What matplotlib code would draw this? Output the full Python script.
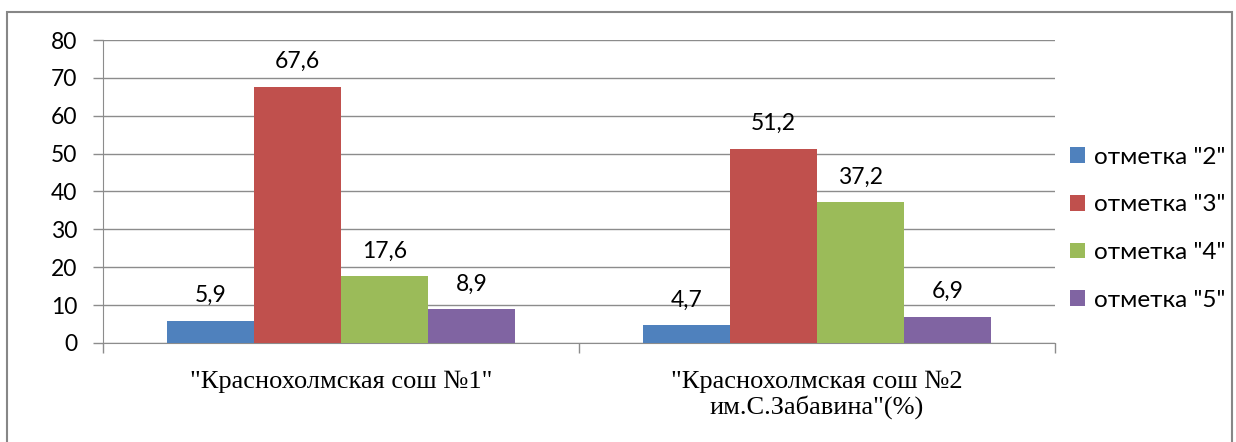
import numpy as np
import matplotlib.pyplot as plt
from matplotlib.patches import Rectangle

schools = ['"Краснохолмская сош №1"', '"Краснохолмская сош №2\nим.С.Забавина"(%)']
series_names = ['отметка "2"', 'отметка "3"', 'отметка "4"', 'отметка "5"']
mark_2 = [5.9, 4.7]
mark_3 = [67.6, 51.2]
mark_4 = [17.6, 37.2]
mark_5 = [8.9, 6.9]
colors = ["#4F81BD", "#C0504D", "#9BBB59", "#8064A2"]

values = [mark_2, mark_3, mark_4, mark_5]

fig = plt.figure(figsize=(12.36, 4.42), dpi=100)
ax = fig.add_axes([0.0833, 0.224, 0.7702, 0.6855])

# outer chart border
fig.patches.append(Rectangle((7 / 1236, -0.01), 1225 / 1236, 0.983, transform=fig.transFigure,
                             fill=False, edgecolor="#878787", linewidth=1.5))

x = np.arange(len(schools))
w = 0.183
for i, (name, vals) in enumerate(zip(series_names, values)):
    pos = x + (i - 1.5) * w
    bars = ax.bar(pos, vals, w, color=colors[i], label=name, zorder=3)
    for b, v in zip(bars, vals):
        ax.annotate(str(v).replace(".", ","), (b.get_x() + b.get_width() / 2, v),
                    xytext=(0, 13.5), textcoords="offset points", ha="center", va="baseline",
                    fontsize=16.5, family="Lato")

ax.set_ylim(0, 80)
ax.set_xlim(-0.5, 1.5)
ax.set_yticks(range(0, 81, 10))
ax.yaxis.grid(True, color="#8c8c8c", linewidth=1, zorder=0)
ax.set_axisbelow(True)

ax.set_xticks([-0.5, 0.5, 1.5])
ax.set_xticklabels([])
ax.tick_params(axis="x", which="major", length=7, color="#8c8c8c", width=1)
ax.tick_params(axis="y", length=7.5, color="#8c8c8c", width=1, pad=11)
for lab in ax.get_yticklabels():
    lab.set_fontfamily("Lato")
    lab.set_fontsize(16.5)

# category names under the groups
for xi, name in zip(x, schools):
    ax.text(xi, -0.092, name, transform=ax.get_xaxis_transform(), ha="center", va="top",
            family=["Liberation Serif", "DejaVu Serif"], fontsize=19, linespacing=1.1)

for s in ["top", "right"]:
    ax.spines[s].set_visible(False)
ax.spines["left"].set_color("#8c8c8c")
ax.spines["bottom"].set_color("#8c8c8c")

leg = ax.legend(loc="center left", bbox_to_anchor=(1.003, 0.377), frameon=False,
                prop={"family": "Lato", "size": 17.5}, handlelength=0.62, handleheight=0.62,
                handletextpad=0.35, labelspacing=1.1, borderpad=0)

fig.savefig("out.png", dpi=100)
